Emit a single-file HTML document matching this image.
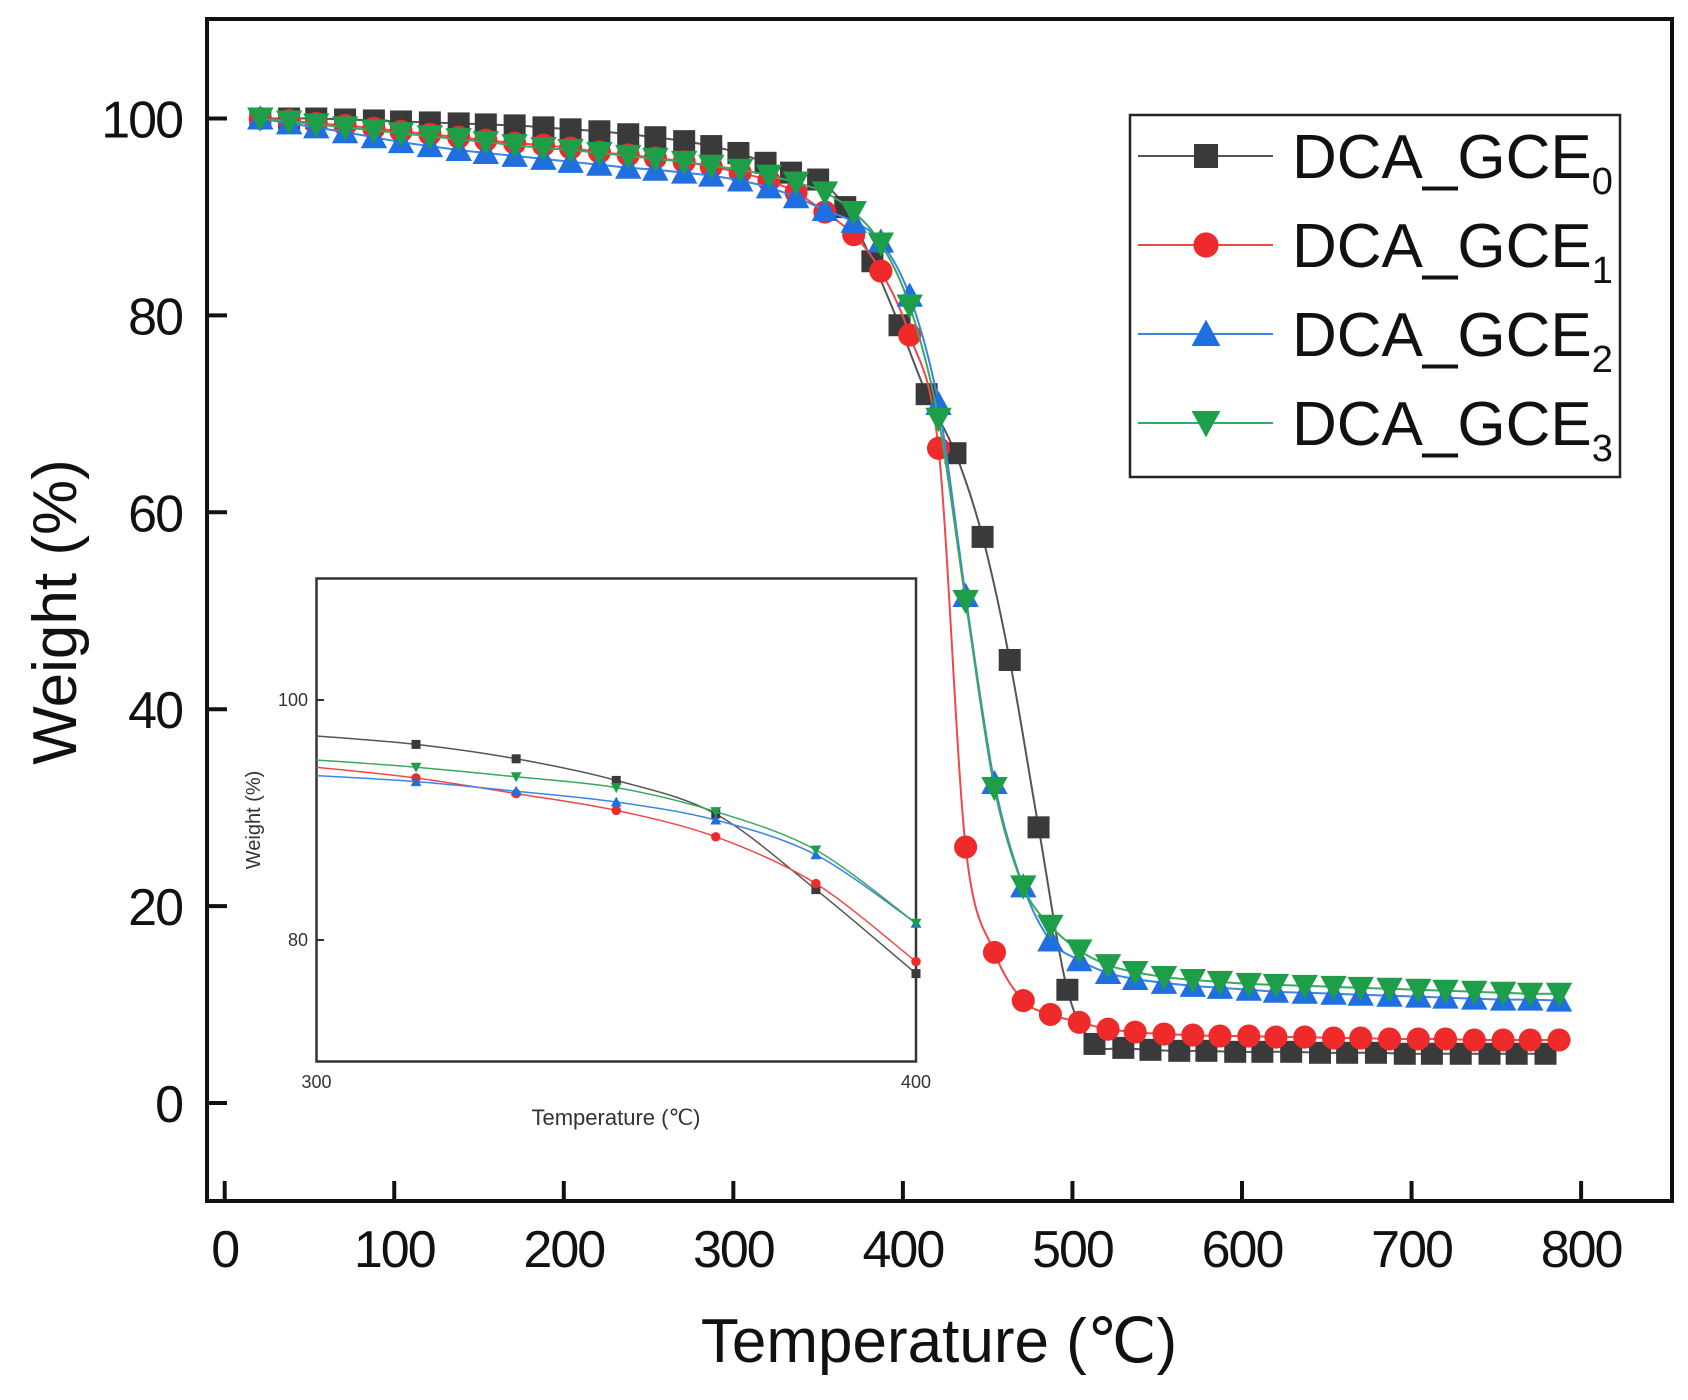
<!DOCTYPE html>
<html><head><meta charset="utf-8"><style>
html,body{margin:0;padding:0;background:#fff}
svg{display:block;font-family:"Liberation Sans",Arial,sans-serif}
</style></head><body>
<svg id="chart" width="1688" height="1400" viewBox="0 0 1688 1400" xmlns="http://www.w3.org/2000/svg">
<rect width="1688" height="1400" fill="#fff"/>
<g id="main"></g>
<g id="inset"></g>
<g id="legend"></g>
</svg>
<script>
const temps = [21,38,54,71,88,104,121,138,154,171,188,204,221,238,254,271,287,304,321,337,354,371,387,404,421,437,454,471,487,504,521,537,554,571,587,604,620,637,654,670,687,704,720,737,754,770,787];
const temps0 = [21,38,54,71,88,104,121,138,154,171,188,204,221,238,254,271,287,303,319,334,350,366,382,398,414,431,447,463,480,497,513,530,546,563,579,596,612,629,646,662,679,696,712,729,746,762,779];
const gce0 = [100,100,100,99.9,99.8,99.7,99.6,99.5,99.4,99.3,99.1,98.9,98.7,98.4,98.1,97.7,97.2,96.5,95.5,94.5,93.8,91,85.5,79,72,66,57.5,45,28,11.5,6,5.6,5.4,5.3,5.3,5.2,5.2,5.2,5.1,5.1,5.1,5.0,5.0,5.0,5.0,5.0,5.0];
const gce1 = [100,99.8,99.5,99.3,99.0,98.7,98.4,98.1,97.8,97.5,97.3,97.0,96.6,96.3,96.0,95.6,95.1,94.5,93.7,92.5,90.5,88.2,84.5,78,66.5,26,15.3,10.4,9,8.2,7.5,7.2,7.0,6.9,6.8,6.8,6.7,6.7,6.6,6.6,6.5,6.5,6.5,6.4,6.4,6.4,6.4];
const gce2 = [100,99.5,99.1,98.6,98.1,97.6,97.2,96.8,96.5,96.2,95.9,95.6,95.3,95.0,94.8,94.5,94.2,93.7,93.0,92.0,90.7,89.5,87.5,82,71,51.5,32.5,22,16.5,14.5,13.2,12.6,12.2,11.9,11.7,11.5,11.3,11.2,11.1,11.0,10.9,10.8,10.7,10.6,10.5,10.5,10.4];
const gce3 = [100,99.7,99.4,99.1,98.8,98.5,98.2,97.9,97.6,97.3,97.0,96.8,96.5,96.2,95.9,95.6,95.2,94.8,94.2,93.5,92.5,90.5,87.3,81,69.5,51,32,22,18,15.5,14,13.3,12.8,12.5,12.3,12.1,12.0,11.9,11.8,11.7,11.6,11.5,11.4,11.3,11.2,11.1,11.1];
const xTicks = [0,100,200,300,400,500,600,700,800];
const yTicks = [0,20,40,60,80,100];
const insetTemps = [300,316.6,333.3,350,366.6,383.3,400];
const inset0 = [97.0,96.3,95.1,93.3,90.5,84.2,77.2];
const inset1 = [94.4,93.5,92.2,90.8,88.6,84.7,78.2];
const inset2 = [93.7,93.2,92.4,91.5,90.0,87.1,81.4];
const inset3 = [95.0,94.4,93.6,92.7,90.7,87.5,81.4];
const insetXTicks = [300,400];
const insetYTicks = [80,100];
const seriesNames = ["0","1","2","3"];

const NS="http://www.w3.org/2000/svg";
function mk(tag,parent,attrs){const e=document.createElementNS(NS,tag);for(const k in attrs)e.setAttribute(k,attrs[k]);parent.appendChild(e);return e;}
const X=t=>224.7+(t-0)*1.6955;
const Y=v=>1103-v*9.845;
const IX=t=>316.5+(t-300)*5.995;
const IY=v=>700-(v-100)*12;
const colors=["#3a3a3a","#ee2a2a","#1f6fe0","#1f9e4a"];
const lineCols=["#555","#f04848","#3d84e8","#3aa860"];

function spline(pts){let d=`M${pts[0][0]},${pts[0][1]}`;for(let i=0;i<pts.length-1;i++){const p0=pts[i-1]||pts[i],p1=pts[i],p2=pts[i+1],p3=pts[i+2]||p2;const t=0.16;d+=` C${p1[0]+(p2[0]-p0[0])*t},${p1[1]+(p2[1]-p0[1])*t} ${p2[0]-(p3[0]-p1[0])*t},${p2[1]-(p3[1]-p1[1])*t} ${p2[0]},${p2[1]}`;}return d;}
function marker(g,k,x,y,s){
 let e;
 if(k===0)e=mk('rect',g,{x:x-s,y:y-s,width:2*s,height:2*s,fill:colors[0]});
 else if(k===1)e=mk('circle',g,{cx:x,cy:y,r:s*1.05,fill:colors[1]});
 else if(k===2)e=mk('polygon',g,{points:`${x},${y-s*1.2} ${x+s*1.2},${y+s} ${x-s*1.2},${y+s}`,fill:colors[2]});
 else e=mk('polygon',g,{points:`${x},${y+s*1.2} ${x+s*1.2},${y-s} ${x-s*1.2},${y-s}`,fill:colors[3]});
 return e;
}
const main=document.getElementById('main');
xTicks.forEach(t=>{const l=mk('line',main,{x1:X(t),x2:X(t),y1:1201,y2:1181,stroke:'#111','stroke-width':4});


const tx=mk('text',main,{x:X(t),y:1267,'font-size':52,'text-anchor':'middle',fill:'#111','letter-spacing':'-2'});tx.textContent=t;

});
yTicks.forEach(v=>{const l=mk('line',main,{x1:207,x2:227,y1:Y(v),y2:Y(v),stroke:'#111','stroke-width':4});


const tx=mk('text',main,{x:182,y:Y(v)+19,'font-size':52,'text-anchor':'end',fill:'#111','letter-spacing':'-2'});tx.textContent=v;

});
const series=[gce0,gce1,gce2,gce3];
const seriesTemps=[temps0,temps,temps,temps];
series.forEach((s,k)=>{const g=mk('g',main,{});


const T=seriesTemps[k];
const p=mk('path',g,{d:spline(T.map((t,i)=>[X(t),Y(s[i])])),fill:'none',stroke:lineCols[k],'stroke-width':2});


T.forEach((t,i)=>{const m=marker(g,k,X(t),Y(s[i]),11);

});});
const frame=mk('rect',main,{x:207,y:19,width:1465,height:1182,fill:'none',stroke:'#111','stroke-width':4});


const xt=mk('text',main,{x:939,y:1362,'font-size':62,'text-anchor':'middle',fill:'#111'});xt.textContent='Temperature (℃)';


const yt=mk('text',main,{x:0,y:0,'font-size':62,'text-anchor':'middle',fill:'#111',transform:'translate(76,612) rotate(-90)'});yt.textContent='Weight (%)';



const ins=document.getElementById('inset');
const ib=mk('rect',ins,{x:316.5,y:578.5,width:599.5,height:483,fill:'#fff',stroke:'#333','stroke-width':2.5});


insetYTicks.forEach(v=>{const l=mk('line',ins,{x1:316.5,x2:324,y1:IY(v),y2:IY(v),stroke:'#333','stroke-width':2});


const tx=mk('text',ins,{x:308,y:IY(v)+6,'font-size':18,'text-anchor':'end',fill:'#333'});tx.textContent=v;

});
insetXTicks.forEach(t=>{const tx=mk('text',ins,{x:IX(t),y:1088,'font-size':18,'text-anchor':'middle',fill:'#333'});tx.textContent=t;

});
const ixt=mk('text',ins,{x:616,y:1125,'font-size':22,'text-anchor':'middle',fill:'#333'});ixt.textContent='Temperature (℃)';


const iyt=mk('text',ins,{x:0,y:0,'font-size':20,'text-anchor':'middle',fill:'#333',transform:'translate(260,820) rotate(-90)'});iyt.textContent='Weight (%)';


[inset0,inset1,inset2,inset3].forEach((s,k)=>{const g=mk('g',ins,{});


const p=mk('path',g,{d:spline(insetTemps.map((t,i)=>[IX(t),IY(s[i])])),fill:'none',stroke:lineCols[k],'stroke-width':1.5});


insetTemps.forEach((t,i)=>{if(i===0)return;const m=marker(g,k,IX(t),IY(s[i]),4.5);

});});

const lg=document.getElementById('legend');
const lb=mk('rect',lg,{x:1130,y:115,width:490,height:362,fill:'#fff',stroke:'#222','stroke-width':2.5});


seriesNames.forEach((n,k)=>{const y=156+k*89;const g=mk('g',lg,{});


mk('line',g,{x1:1138,x2:1273,y1:y,y2:y,stroke:lineCols[k],'stroke-width':2});
marker(g,k,1206,y,12);
const tx=mk('text',g,{x:1292,y:y+22,'font-size':62,fill:'#111'});
tx.appendChild(document.createTextNode('DCA_GCE'));
const sub=document.createElementNS(NS,'tspan');sub.setAttribute('font-size','38');sub.setAttribute('dy','16');sub.textContent=n;tx.appendChild(sub);});
</script>
</body></html>
